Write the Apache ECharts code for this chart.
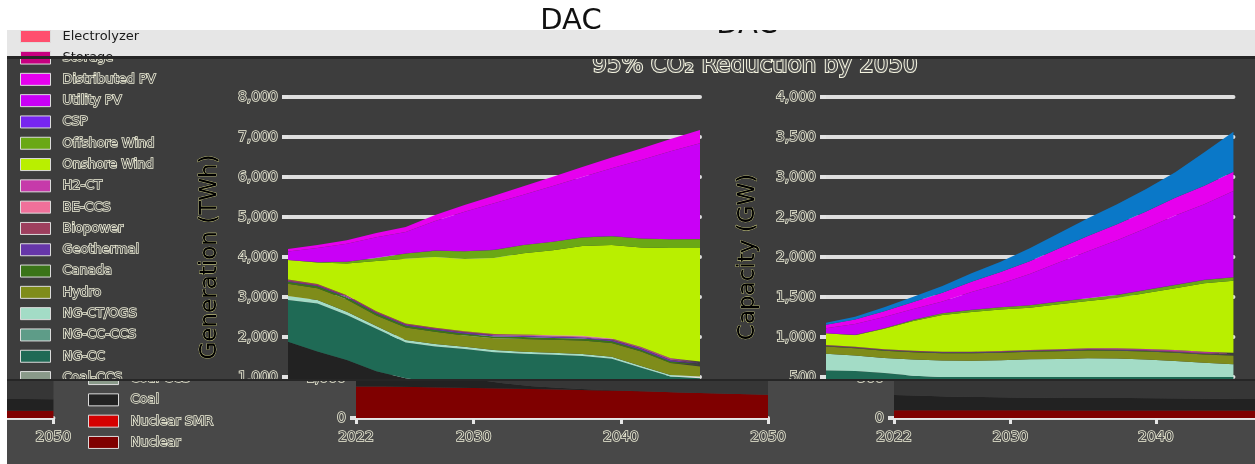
<!DOCTYPE html>
<html>
<head>
<meta charset="utf-8">
<script src="https://cdn.jsdelivr.net/npm/echarts@6/dist/echarts.min.js"></script>
<style>
  html, body { margin: 0; padding: 0; background: #ffffff; width: 1255px; height: 464px; overflow: hidden; }
  .strip { position: absolute; overflow: hidden; }
  .strip > .chart { position: absolute; width: 1255px; height: 464px; }
</style>
</head>
<body>
<div class="strip" style="left:0;top:0;width:1255px;height:30px"><div class="chart" id="c-top" style="left:0;top:0"></div></div>
<div class="strip" style="left:7px;top:30px;width:1248px;height:26px"><div class="chart" id="c-head" style="left:-7px;top:-30px"></div></div>
<div class="strip" style="left:7px;top:56px;width:1248px;height:3px;background:#262626"></div>
<div class="strip" style="left:7px;top:59px;width:1248px;height:321px"><div class="chart" id="c-main" style="left:-7px;top:-59px"></div></div>
<div class="strip" style="left:7px;top:380px;width:1248px;height:84px">
  <div class="chart" id="c-foot1" style="left:61px;top:-379px"></div>
  <div class="chart" id="c-foot2" style="left:-1187px;top:-379px"></div>
</div>
<div class="strip" style="left:7px;top:379px;width:1248px;height:2px;background:#262626"></div>

<script>
// Model years (evenly spaced solve years)
const years = [2022, 2024, 2026, 2028, 2030, 2032, 2034, 2036, 2038, 2040, 2042, 2044, 2046, 2048, 2050];

// Generation (TWh)
const genNuclear       = [790, 785, 775, 765, 750, 740, 725, 710, 695, 680, 660, 640, 620, 600, 580];
const genNuclearSMR    = [0, 0, 0, 0, 0, 0, 0, 0, 0, 0, 0, 0, 0, 0, 0];
const genCoal          = [1090, 850, 650, 380, 220, 130, 70, 40, 20, 10, 0, 0, 0, 0, 0];
const genCoalCCS       = [0, 0, 0, 0, 0, 0, 0, 0, 0, 0, 0, 0, 0, 0, 0];
const genNGCC          = [1045, 1200, 1128, 1060, 895, 895, 908, 870, 868, 868, 865, 818, 610, 410, 390];
const genNGCCCCS       = [0, 0, 0, 0, 0, 0, 0, 0, 0, 0, 0, 0, 0, 0, 0];
const genNGCT          = [100, 90, 80, 70, 60, 60, 55, 55, 50, 50, 50, 50, 45, 40, 40];
const genHydro         = [305, 295, 305, 260, 310, 305, 280, 295, 320, 325, 340, 340, 360, 300, 255];
const genCanada        = [50, 50, 50, 50, 45, 45, 45, 45, 45, 45, 45, 45, 40, 40, 40];
const genGeothermal    = [20, 20, 22, 24, 26, 28, 30, 30, 32, 32, 34, 34, 36, 36, 38];
const genBiopower      = [40, 38, 36, 34, 30, 28, 26, 24, 22, 20, 18, 16, 14, 12, 10];
const genBECCS         = [0, 0, 0, 0, 0, 2, 4, 6, 8, 10, 10, 10, 12, 12, 12];
const genH2CT          = [0, 0, 0, 0, 0, 0, 0, 2, 4, 6, 8, 10, 14, 18, 22];
const genOnshore       = [483, 532, 793, 1254, 1620, 1765, 1810, 1900, 2028, 2123, 2244, 2338, 2489, 2755, 2839];
const genOffshore      = [0, 10, 40, 80, 130, 160, 190, 200, 205, 210, 215, 220, 220, 220, 220];
const genCSP           = [3, 3, 3, 3, 3, 3, 3, 3, 3, 3, 3, 3, 3, 3, 3];
const genUtilityPV     = [212, 355, 449, 512, 533, 739, 984, 1162, 1257, 1394, 1505, 1692, 1960, 2195, 2395];
const genDistPV        = [60, 75, 90, 110, 130, 150, 170, 190, 210, 230, 250, 270, 290, 310, 330];
const genStorage       = [0, 0, 0, 0, 0, 0, 0, 0, 0, 0, 0, 0, 0, 0, 0];
const genElectrolyzer  = [0, 0, 0, 0, 0, 0, 0, 0, 0, 0, 0, 0, 0, 0, 0];

// Capacity (GW)
const capNuclear       = [98, 98, 97, 97, 96, 96, 95, 95, 95, 94, 94, 93, 93, 92, 92];
const capNuclearSMR    = [0, 0, 0, 0, 0, 0, 0, 0, 0, 0, 0, 0, 0, 0, 0];
const capCoal          = [190, 180, 170, 165, 160, 158, 156, 155, 154, 152, 150, 148, 146, 144, 142];
const capCoalCCS       = [0, 0, 0, 0, 0, 0, 0, 0, 0, 0, 0, 0, 0, 0, 0];
const capNGCC          = [292, 297, 283, 253, 244, 246, 249, 250, 251, 254, 256, 259, 261, 264, 266];
const capNGCCCCS       = [0, 0, 0, 0, 0, 0, 0, 0, 0, 0, 0, 0, 0, 0, 0];
const capNGCT          = [210, 194, 187, 203, 206, 204, 209, 221, 225, 233, 231, 219, 201, 177, 160];
const capHydro         = [90, 90, 90, 91, 92, 93, 94, 95, 96, 97, 98, 100, 102, 104, 106];
const capCanada        = [6, 6, 6, 6, 6, 6, 6, 6, 6, 6, 6, 6, 6, 6, 6];
const capGeothermal    = [4, 4, 4, 5, 5, 5, 6, 6, 6, 7, 7, 7, 8, 8, 8];
const capBiopower      = [10, 10, 9, 9, 8, 8, 8, 7, 7, 7, 6, 6, 6, 5, 5];
const capBECCS         = [0, 0, 0, 0, 0, 1, 1, 1, 2, 2, 2, 2, 3, 3, 3];
const capH2CT          = [0, 0, 0, 0, 0, 0, 1, 2, 4, 6, 8, 10, 12, 14, 16];
const capOnshore       = [146, 144, 256, 372, 459, 496, 518, 528, 564, 591, 631, 700, 772, 854, 898];
const capOffshore      = [0, 2, 6, 12, 20, 25, 28, 30, 32, 34, 36, 38, 40, 42, 44];
const capCSP           = [2, 2, 2, 2, 2, 2, 2, 2, 2, 2, 2, 2, 2, 2, 2];
const capUtilityPV     = [61, 134, 139, 134, 145, 221, 294, 390, 487, 588, 683, 770, 868, 945, 1078];
const capDistPV        = [45, 58, 72, 90, 110, 130, 145, 160, 175, 190, 200, 210, 220, 230, 240];
const capStorage       = [25, 35, 50, 65, 85, 105, 130, 160, 190, 220, 250, 280, 320, 420, 500];
const capElectrolyzer  = [0, 0, 0, 0, 0, 0, 0, 0, 0, 0, 0, 0, 0, 0, 0];

// Axis ticks and labels
const yearTicks = [2022, 2030, 2040, 2050];
const genTicks = { min: 0, max: 8000, step: 1000 };
const capTicks = { min: 0, max: 4000, step: 500 };
const titleText = '95% CO\u2082 Reduction by 2050';
const scenarioText = 'DAC';
const genAxisName = 'Generation (TWh)';
const capAxisName = 'Capacity (GW)';

// Stack order, bottom to top
const techs = ['Nuclear', 'Nuclear SMR', 'Coal', 'Coal-CCS', 'NG-CC', 'NG-CC-CCS', 'NG-CT/OGS',
  'Hydro', 'Canada', 'Geothermal', 'Biopower', 'BE-CCS', 'H2-CT', 'Onshore Wind', 'Offshore Wind',
  'CSP', 'Utility PV', 'Distributed PV', 'Storage', 'Electrolyzer'];

const genSeries = [genNuclear, genNuclearSMR, genCoal, genCoalCCS, genNGCC, genNGCCCCS, genNGCT,
  genHydro, genCanada, genGeothermal, genBiopower, genBECCS, genH2CT, genOnshore, genOffshore,
  genCSP, genUtilityPV, genDistPV, genStorage, genElectrolyzer];
const capSeries = [capNuclear, capNuclearSMR, capCoal, capCoalCCS, capNGCC, capNGCCCCS, capNGCT,
  capHydro, capCanada, capGeothermal, capBiopower, capBECCS, capH2CT, capOnshore, capOffshore,
  capCSP, capUtilityPV, capDistPV, capStorage, capElectrolyzer];

const areaColors = {
  'Nuclear': '#7f0000', 'Nuclear SMR': '#d40000', 'Coal': '#222222', 'Coal-CCS': '#8a9a8a',
  'NG-CC': '#1f6a55', 'NG-CC-CCS': '#5e9c88', 'NG-CT/OGS': '#a3dcc6', 'Hydro': '#7f8c1a',
  'Canada': '#3a7418', 'Geothermal': '#6636a8', 'Biopower': '#9e3f5e', 'BE-CCS': '#f0709a',
  'H2-CT': '#c63aaa', 'Onshore Wind': '#b9ef00', 'Offshore Wind': '#6aa815', 'CSP': '#7725f0',
  'Utility PV': '#c900f6', 'Distributed PV': '#e600ee', 'Storage': '#0a78c8', 'Electrolyzer': '#ff4f6e'
};
const legendColors = Object.assign({}, areaColors, { 'Storage': '#c70080' });

function buildOption(variant) {
  const light = variant === 'top' || variant === 'head';
  const bg = { top: '#ffffff', head: '#e6e6e6', main: '#3d3d3d', foot: '#484848' }[variant];
  const outlined = {
    color: '#4a4a4a', textBorderColor: '#efefd8', textBorderWidth: 1.5,
    fontFamily: 'DejaVu Sans'
  };
  const legendText = light
    ? { color: '#1a1a1a', fontFamily: 'DejaVu Sans', fontSize: 13, lineHeight: 14, padding: [0, 0, 0, 7] }
    : Object.assign({}, outlined, { fontSize: 13, lineHeight: 14, padding: [0, 0, 0, 7] });

  const colorFor = (name) => {
    if (variant === 'foot' && name === 'NG-CC') return '#363636';
    return areaColors[name];
  };

  const isTickYear = (index, value) => yearTicks.indexOf(Number(value)) >= 0;

  const yAxisBase = (ticks, name) => ({
    type: 'value', min: ticks.min, max: ticks.max, interval: ticks.step,
    name: name, nameLocation: 'middle', nameGap: 66,
    nameTextStyle: { fontSize: 23, fontFamily: 'DejaVu Sans', color: '#000000',
      textBorderColor: '#e4e48c', textBorderWidth: 0.6 },
    axisLine: { show: false },
    axisTick: { show: true, length: 6, lineStyle: { color: '#e2e2e2', width: 4 } },
    axisLabel: Object.assign({ fontSize: 14, margin: 10,
      formatter: (v) => v.toLocaleString('en-US') }, outlined),
    splitLine: { show: true, lineStyle: { color: '#dedede', width: 4, cap: 'round' } }
  });

  const xAxisBase = () => ({
    type: 'category', data: years.map(String), boundaryGap: false,
    axisLine: { show: true, lineStyle: { color: '#e6e6e6', width: 2 } },
    axisTick: { show: true, interval: isTickYear, length: 6, lineStyle: { color: '#e6e6e6', width: 3 } },
    axisLabel: Object.assign({ interval: isTickYear, fontSize: 14, margin: 12 }, outlined),
    splitLine: { show: false }
  });

  const series = [];
  [[genSeries, 0, 'gen'], [capSeries, 1, 'cap']].forEach(([table, idx, stack]) => {
    techs.forEach((name, i) => {
      series.push({
        name: name, type: 'line', stack: stack, xAxisIndex: idx, yAxisIndex: idx,
        symbol: 'none', showSymbol: false, silent: true,
        lineStyle: { width: 0 },
        itemStyle: { color: colorFor(name) },
        areaStyle: { color: colorFor(name), opacity: 1 },
        data: table[i]
      });
    });
  });

  const graphic = [];
  if (variant === 'top') {
    graphic.push({ type: 'text', x: 571, y: 7, style: { text: scenarioText, fill: '#111111',
      font: '29px "DejaVu Sans"', textAlign: 'center', textVerticalAlign: 'top' } });
  }
  if (variant === 'head') {
    graphic.push({ type: 'text', x: 747, y: 11, style: { text: scenarioText, fill: '#111111',
      font: '29px "DejaVu Sans"', textAlign: 'center', textVerticalAlign: 'top' } });
  }

  return {
    animation: false,
    backgroundColor: bg,
    title: light ? { show: false } : {
      text: titleText, left: 750, top: 50, textAlign: 'center',
      textStyle: Object.assign({}, outlined, { fontSize: 23, fontWeight: 'normal',
        color: '#555555', textBorderColor: '#f4f4e0', textBorderWidth: 2 })
    },
    graphic: graphic,
    legend: {
      orient: 'vertical', left: 20, top: 29.5, padding: 0,
      itemWidth: 30, itemHeight: 12, itemGap: 6.8,
      icon: 'rect', selectedMode: false,
      itemStyle: { borderColor: '#dcdcdc', borderWidth: 1 },
      textStyle: legendText,
      data: techs.slice().reverse().map((n) => ({ name: n, itemStyle: { color: legendColors[n] } }))
    },
    grid: [
      { left: 288, right: 555, top: 97, bottom: 47 },
      { left: 826, right: 18, top: 97, bottom: 47 }
    ],
    xAxis: [Object.assign({ gridIndex: 0 }, xAxisBase()), Object.assign({ gridIndex: 1 }, xAxisBase())],
    yAxis: [Object.assign({ gridIndex: 0 }, yAxisBase(genTicks, genAxisName)),
            Object.assign({ gridIndex: 1 }, yAxisBase(capTicks, capAxisName))],
    series: series
  };
}

[['c-top', 'top'], ['c-head', 'head'], ['c-main', 'main'], ['c-foot1', 'foot'], ['c-foot2', 'foot']]
  .forEach(([id, variant]) => {
    const chart = echarts.init(document.getElementById(id), null, { renderer: 'canvas', width: 1255, height: 464 });
    chart.setOption(buildOption(variant));
  });
</script>
</body>
</html>
